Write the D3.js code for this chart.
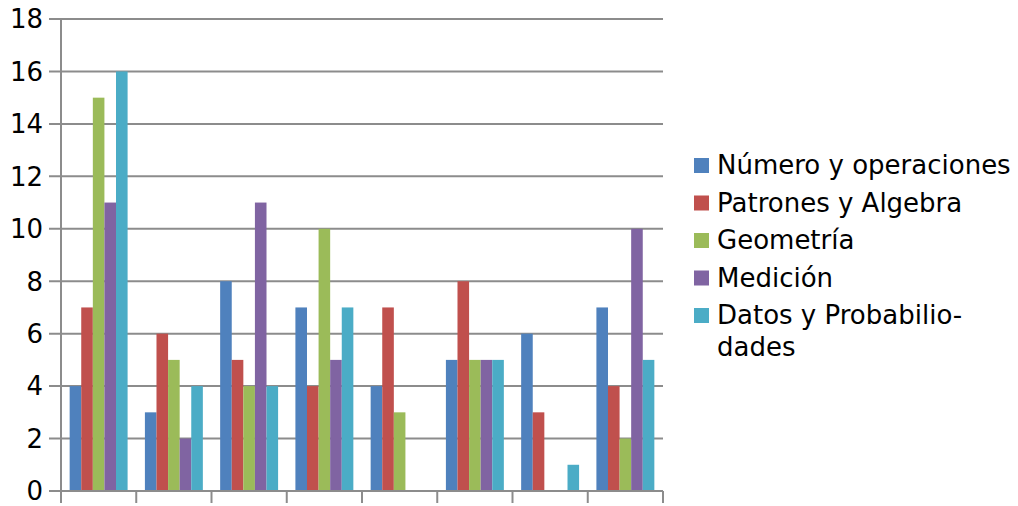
<!DOCTYPE html>
<html><head><meta charset="utf-8">
<script src="https://cdn.jsdelivr.net/npm/d3@7"></script>
<style>body{margin:0;background:#fff}svg{display:block}text{font-family:"DejaVu Sans",sans-serif}</style>
</head><body>
<script>
const categories = ["1","2","3","4","5","6","7","8"];
const seriesNames = ["Número y operaciones","Patrones y Algebra","Geometría","Medición","Datos y Probabilio-\ndades"];
const numero = [4,3,8,7,4,5,6,7];
const patrones = [7,6,5,4,7,8,3,4];
const geometria = [15,5,4,10,3,5,0,2];
const medicion = [11,2,11,5,0,5,0,10];
const datos = [16,4,4,7,0,5,1,5];
const yTicks = [0,2,4,6,8,10,12,14,16,18];
const colors = ["#4F81BD","#C0504D","#9BBB59","#8064A2","#4BACC6"];
const series = [numero, patrones, geometria, medicion, datos];

(function(){
const W = 1018, H = 506;
const svg = d3.select("body").append("svg").attr("width", W).attr("height", H);
const pl = 61, pr = 663, pt = 19, pb = 491;
const x0 = d3.scaleBand().domain(categories).range([pl, pr]).padding(0);
const inner = x0.bandwidth() * 0.115;
const x1 = d3.scaleBand().domain(d3.range(series.length)).range([inner, x0.bandwidth() - inner]).padding(0);
const y = d3.scaleLinear().domain([0, 18]).range([pb, pt]);

svg.append("g").selectAll("line").data(yTicks).join("line")
  .attr("x1", pl - 12).attr("x2", pr).attr("y1", d => y(d)).attr("y2", d => y(d))
  .attr("stroke", "#8c8c8c").attr("stroke-width", 2);

svg.append("line").attr("x1", pl).attr("x2", pl).attr("y1", pt).attr("y2", pb)
  .attr("stroke", "#8c8c8c").attr("stroke-width", 2);

svg.append("g").selectAll("text").data(yTicks).join("text")
  .attr("x", pl - 18).attr("y", d => y(d)).attr("dy", "0.36em")
  .attr("text-anchor", "end").attr("font-size", 26).attr("fill", "#000").text(d => d);

categories.forEach((c, i) => {
  const g = svg.append("g").attr("transform", `translate(${x0(c)},0)`);
  g.selectAll("rect").data(series.map((s, k) => ({k, v: s[i]}))).join("rect")
    .attr("x", d => x1(d.k)).attr("width", x1.bandwidth())
    .attr("y", d => y(d.v)).attr("height", d => y(0) - y(d.v))
    .attr("fill", d => colors[d.k]);
});

svg.append("line").attr("x1", pl - 12).attr("x2", pr).attr("y1", pb).attr("y2", pb)
  .attr("stroke", "#8c8c8c").attr("stroke-width", 2);
const xt = categories.map(c => x0(c)).concat([pr]);
svg.append("g").selectAll("line").data(xt).join("line")
  .attr("x1", d => d).attr("x2", d => d).attr("y1", pb).attr("y2", pb + 12)
  .attr("stroke", "#8c8c8c").attr("stroke-width", 2);

const lg = svg.append("g");
const rowY = [165, 202.5, 240, 277.5, 315];
seriesNames.forEach((n, k) => {
  lg.append("rect").attr("x", 694).attr("y", rowY[k] - 7).attr("width", 15).attr("height", 15).attr("fill", colors[k]);
  const t = lg.append("text").attr("x", 717).attr("y", rowY[k]).attr("font-size", 26).attr("fill", "#000");
  n.split("\n").forEach((line, j) => {
    t.append("tspan").attr("x", 717).attr("dy", j === 0 ? "0.36em" : 32).text(line);
  });
});
})();
</script>
</body></html>
